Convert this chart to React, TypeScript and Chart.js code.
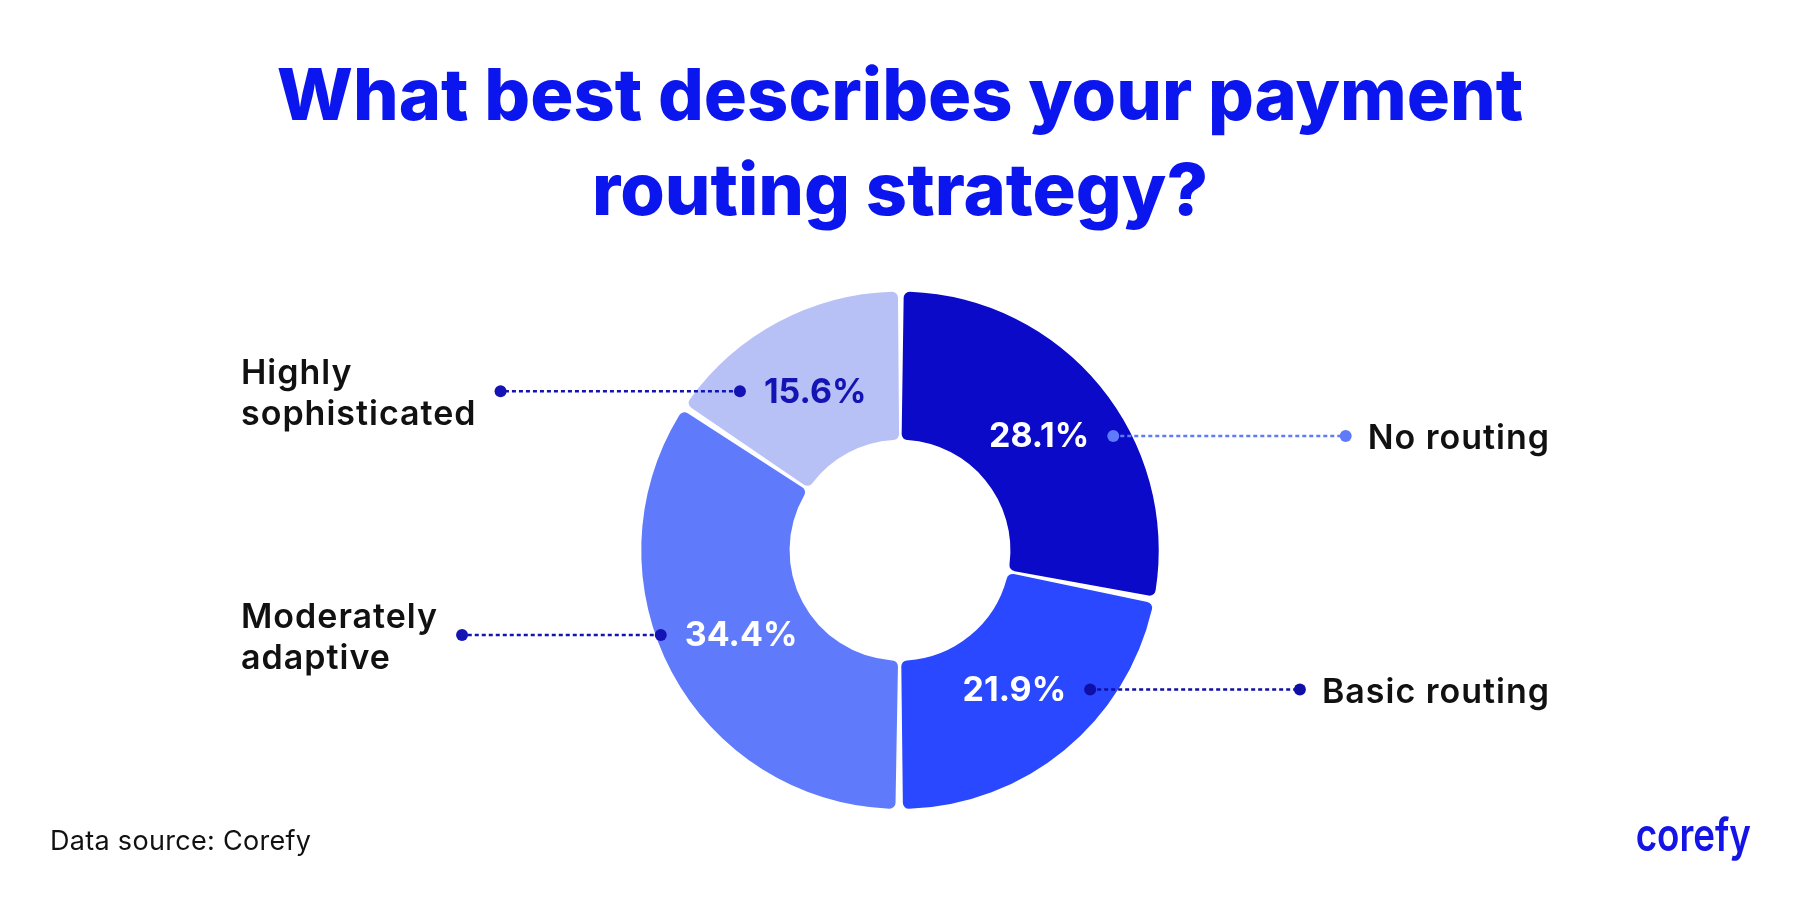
import { useEffect, useRef } from "react";
import { Chart, registerables } from "chart.js";
import type { Plugin } from "chart.js";

Chart.register(...registerables);

const titleLines = ["What best describes your payment", "routing strategy?"];
const categories = ["No routing", "Basic routing", "Moderately adaptive", "Highly sophisticated"];
const categoryLines = [["No routing"], ["Basic routing"], ["Moderately", "adaptive"], ["Highly", "sophisticated"]];
const shares = [28.1, 21.9, 34.4, 15.6];
const sliceColors = ["#0A0AC8", "#2A48FF", "#5F7AFB", "#B8C1F6"];
const valueColors = ["#FFFFFF", "#FFFFFF", "#FFFFFF", "#1414B4"];
const leaderColors = ["#5F7AFB", "#0F0FA8", "#1414B4", "#1414B4"];
const sourceNote = "Data source: Corefy";
const brand = "corefy";

const FONT = "Inter, 'Noto Sans', sans-serif";

const calloutPlugin: Plugin<"doughnut"> = {
  id: "callouts",
  afterDatasetsDraw(chart) {
    const ctx = chart.ctx as any;
    const meta = chart.getDatasetMeta(0);
    const first = meta.data[0] as any;
    const cx: number = first.x;
    const cy: number = first.y;

    ctx.save();
    meta.data.forEach((el, i) => {
      const arc = el as any;
      const mid = (arc.startAngle + arc.endAngle) / 2;
      const r = arc.innerRadius + 0.49 * (arc.outerRadius - arc.innerRadius);
      const x = cx + Math.cos(mid) * r;
      const y = cy + Math.sin(mid) * r;
      const right = x > cx;
      const text = `${shares[i].toFixed(1)}%`;

      ctx.letterSpacing = "0px";
      ctx.font = `700 34px ${FONT}`;
      ctx.textAlign = "center";
      ctx.textBaseline = "middle";
      ctx.fillStyle = valueColors[i];
      ctx.fillText(text, x, y + 1);
      const w = ctx.measureText(text).width;

      // category label block
      const lines = categoryLines[i];
      const lh = 41;
      ctx.font = `600 34px ${FONT}`;
      ctx.letterSpacing = "1px";
      const blockW = Math.max(...lines.map((l) => ctx.measureText(l).width));
      const labelX = right ? cx + 650 : cx - 659;
      const top = y - ((lines.length - 1) * lh) / 2 + 3;
      ctx.fillStyle = "#111111";
      ctx.textAlign = right ? "right" : "left";
      lines.forEach((l, k) => ctx.fillText(l, labelX, top + k * lh));
      ctx.letterSpacing = "0px";

      // leader line with dots
      const startX = right ? x + w / 2 + 24 : x - w / 2 - 24;
      const endX = right ? labelX - blockW - 22 : labelX + blockW + 24;
      ctx.strokeStyle = leaderColors[i];
      ctx.fillStyle = leaderColors[i];
      ctx.lineWidth = 2.5;
      ctx.setLineDash([4, 3]);
      ctx.beginPath();
      ctx.moveTo(startX, y);
      ctx.lineTo(endX, y);
      ctx.stroke();
      ctx.setLineDash([]);
      [startX, endX].forEach((px) => {
        ctx.beginPath();
        ctx.arc(px, y, 6, 0, Math.PI * 2);
        ctx.fill();
      });
    });

    // footer
    ctx.textBaseline = "middle";
    ctx.textAlign = "left";
    ctx.fillStyle = "#111111";
    ctx.font = `400 27px ${FONT}`;
    ctx.letterSpacing = "0.3px";
    ctx.fillText(sourceNote, 50, 842);
    ctx.letterSpacing = "0px";
    ctx.translate(1751, 837);
    ctx.scale(0.8, 1);
    ctx.textAlign = "right";
    ctx.fillStyle = "#1414E6";
    ctx.font = `600 46px ${FONT}`;
    ctx.fillText(brand, 0, 0);
    ctx.restore();
  },
};

export default function App() {
  const canvasRef = useRef<HTMLCanvasElement>(null);

  useEffect(() => {
    document.body.style.margin = "0";
    const chart = new Chart(canvasRef.current!, {
      type: "doughnut",
      data: {
        labels: categories,
        datasets: [
          {
            data: shares,
            backgroundColor: sliceColors,
            borderWidth: 0,
            borderRadius: 6,
            spacing: 6,
          },
        ],
      },
      options: {
        responsive: false,
        animation: false,
        cutout: "42%",
        layout: { padding: { top: 0, bottom: 91, left: 0, right: 0 } },
        plugins: {
          legend: { display: false },
          tooltip: { enabled: false },
          title: {
            display: true,
            text: titleLines,
            color: "#0B15EE",
            font: { family: FONT, size: 72, weight: 800, lineHeight: 1.33 },
            padding: { top: 50, bottom: 50 },
          },
        },
      },
      plugins: [calloutPlugin],
    });

    return () => chart.destroy();
  }, []);

  return (
    <div style={{ width: 1800, height: 900, background: "#FFFFFF" }}>
      <canvas ref={canvasRef} width={1800} height={900}></canvas>
    </div>
  );
}
